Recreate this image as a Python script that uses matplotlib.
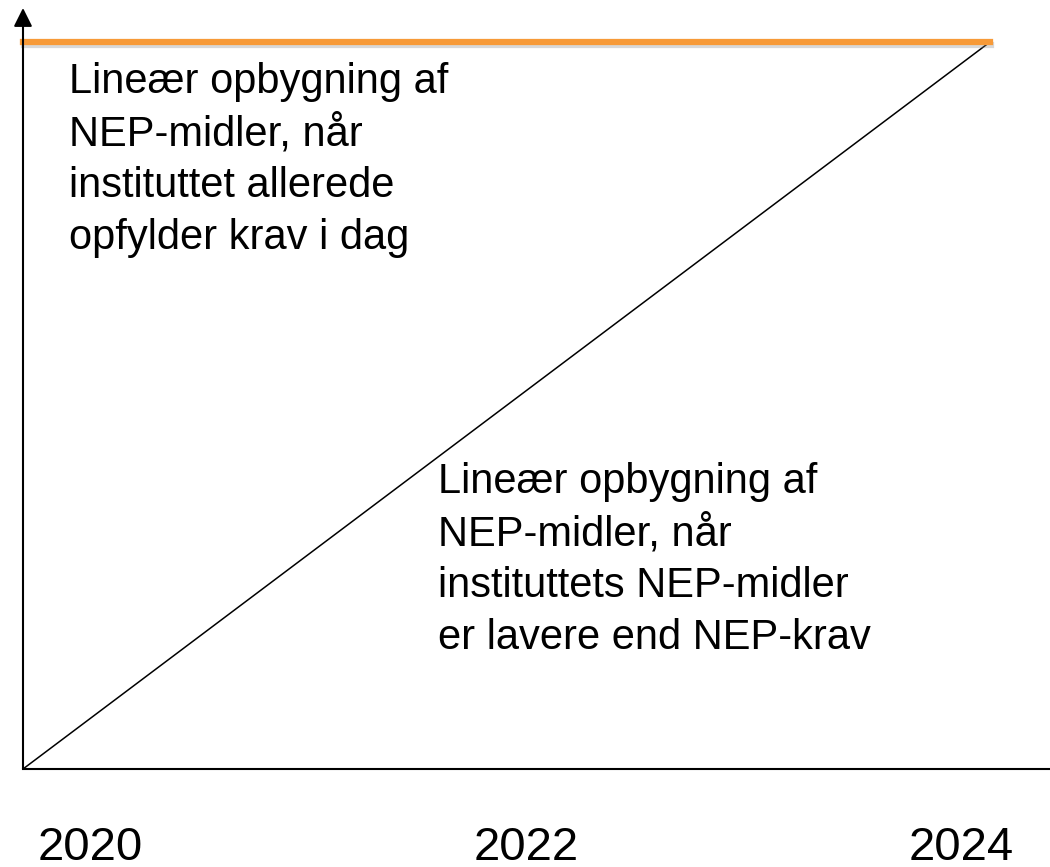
import matplotlib.pyplot as plt
import matplotlib.transforms as mtransforms
import matplotlib.patheffects as pe

plt.rcParams["font.family"] = ["Liberation Sans", "DejaVu Sans"]

# data
years = [2020, 2024]
krav_niveau = [1, 1]          # institut opfylder allerede krav
lineaer_opbygning = [0, 1]    # lineær opbygning mod NEP-krav

year_labels = ["2020", "2022", "2024"]
year_label_pos = [2020.28, 2022.08, 2023.88]

tekst_top = "Lineær opbygning af\nNEP-midler, når\ninstituttet allerede\nopfylder krav i dag"
tekst_bund = "Lineær opbygning af\nNEP-midler, når\ninstituttets NEP-midler\ner lavere end NEP-krav"

fig = plt.figure(figsize=(10.5, 8.67), dpi=100)
W, H = 1050, 867
ax = fig.add_axes([23 / W, (H - 769) / H, (W - 23) / W, (769 - 8) / H])

ax.set_xlim(2020, 2020 + (W - 23) / 241.75)
ax.set_ylim(0, (769 - 8) / 727)

# orange line with a light shadow
ax.plot(years, krav_niveau, color="#F79A38", lw=4.5, solid_capstyle="projecting",
        clip_on=False, zorder=3,
        path_effects=[pe.SimpleLineShadow(offset=(1, -2), shadow_color="gray", alpha=0.3),
                      pe.Normal()])
ax.plot(years, lineaer_opbygning, color="black", lw=1.1, zorder=2)

# axes
for s in ["top", "right", "left"]:
    ax.spines[s].set_visible(False)
ax.spines["bottom"].set_linewidth(1.5)
ax.set_xticks([])
ax.set_yticks([])
ax.annotate("", xy=(0, 1), xytext=(0, 0), xycoords="axes fraction",
            arrowprops=dict(arrowstyle="-|>", color="black", lw=1.5,
                            mutation_scale=28, shrinkA=0, shrinkB=0))

# va="baseline" anchors the last line of a multi-line text
ax.text(2020.19, 0.715, tekst_top, fontsize=30, va="baseline", ha="left",
        linespacing=1.38)
ax.text(2021.717, 0.165, tekst_bund, fontsize=30, va="baseline", ha="left",
        linespacing=1.38)

trans = mtransforms.blended_transform_factory(ax.transData, fig.transFigure)
for lab, x in zip(year_labels, year_label_pos):
    ax.text(x, 7 / H, lab, fontsize=34, ha="center", va="baseline",
            transform=trans, clip_on=False)

fig.savefig("out.png", dpi=100)
